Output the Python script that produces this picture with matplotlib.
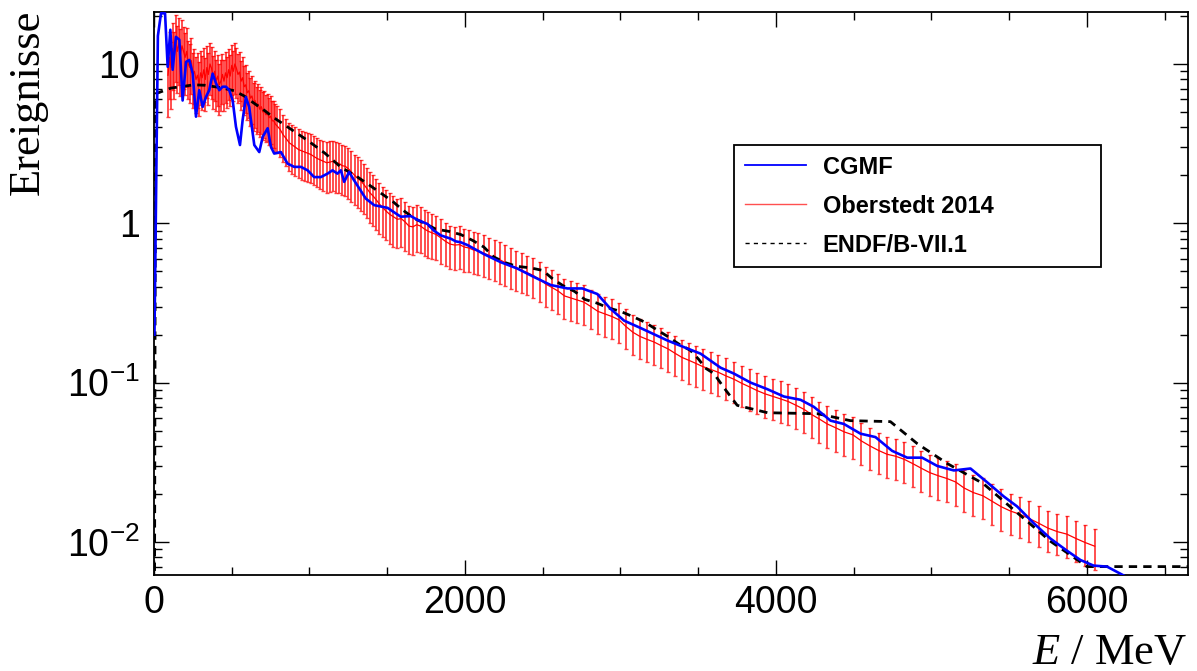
import matplotlib
matplotlib.use("Agg")
import matplotlib.pyplot as plt
import numpy as np
from matplotlib.ticker import FixedLocator, FixedFormatter, NullFormatter, MultipleLocator
from matplotlib.lines import Line2D

plt.rcParams['font.family'] = ['Liberation Sans', 'DejaVu Sans']
plt.rcParams['mathtext.fontset'] = 'custom'
plt.rcParams['mathtext.it'] = 'Liberation Serif:italic'
plt.rcParams['mathtext.rm'] = 'Liberation Sans'

# ---------------- data ----------------
blue_x = [3, 25, 45, 71, 88, 105, 120, 141, 163, 184,
          206, 227, 249, 270, 291, 313, 334, 355, 377, 398,
          420, 441, 463, 484, 506, 527, 553, 570, 591, 612,
          645, 677, 699, 731, 752, 773, 816, 859, 902, 945,
          988, 1030, 1073, 1116, 1148, 1180, 1202, 1223, 1255, 1287,
          1330, 1362, 1416, 1502, 1540, 1587, 1652, 1695, 1759, 1800,
          1844, 1909, 1941, 1973, 2016, 2123, 2230, 2337, 2444, 2551,
          2659, 2755, 2851, 2937, 3023, 3130, 3301, 3408, 3515, 3644,
          3729, 3837, 3944, 4051, 4158, 4244, 4351, 4437, 4544, 4640,
          4747, 4844, 4940, 5037, 5144, 5251, 5358, 5465, 5551, 5658,
          5765, 5872, 5958, 6043, 6129, 6258]
blue_y = [0.2, 15, 20.8, 20.8, 9.6, 16.4, 9.2, 14.8, 14.2, 5.9,
          10.3, 10.6, 8.7, 4.67, 6.85, 5.38, 6.2, 6.85, 8.7, 7.6,
          6.85, 7.2, 7.2, 6.85, 5.9, 4.04, 3.1, 4.45, 6.2, 5.38,
          3.1, 2.8, 3.49, 3.95, 3.02, 2.74, 2.8, 2.37, 2.26, 2.26,
          2.15, 1.95, 1.95, 2.05, 2.15, 2.05, 2.15, 1.82, 2.1, 1.86,
          1.6, 1.43, 1.30, 1.25, 1.18, 1.10, 1.11, 1.05, 0.99, 0.90,
          0.84, 0.80, 0.77, 0.76, 0.73, 0.64, 0.57, 0.52, 0.46, 0.41,
          0.39, 0.39, 0.36, 0.29, 0.245, 0.22, 0.184, 0.167, 0.152, 0.124,
          0.114, 0.10, 0.091, 0.0818, 0.078, 0.0704, 0.0577, 0.055, 0.0478, 0.0455,
          0.0373, 0.0338, 0.0338, 0.030, 0.0281, 0.0289, 0.0237, 0.0193, 0.0167, 0.0131,
          0.0105, 0.0088, 0.0077, 0.0071, 0.0070, 0.0060]

red_x = [90, 100, 110, 120, 130, 140, 150, 160, 170, 180,
         190, 200, 210, 220, 230, 240, 250, 260, 270, 280,
         290, 300, 310, 320, 330, 340, 350, 360, 370, 380,
         390, 400, 410, 420, 430, 440, 450, 460, 470, 480,
         490, 500, 510, 520, 530, 540, 550, 560, 570, 580,
         590, 600, 610, 620, 630, 640, 650, 660, 670, 680,
         690, 700, 710, 720, 730, 740, 750, 760, 770, 780,
         790, 810, 830, 850, 870, 890, 910, 930, 950, 970,
         990, 1010, 1030, 1050, 1070, 1090, 1110, 1130, 1150, 1170,
         1190, 1210, 1230, 1250, 1270, 1290, 1310, 1330, 1350, 1370,
         1390, 1410, 1430, 1450, 1470, 1490, 1515, 1540, 1565, 1590,
         1615, 1640, 1665, 1690, 1715, 1740, 1765, 1790, 1815, 1845,
         1875, 1905, 1935, 1965, 1995, 2025, 2055, 2085, 2120, 2155,
         2190, 2225, 2260, 2295, 2330, 2365, 2400, 2440, 2480, 2520,
         2560, 2600, 2640, 2680, 2720, 2765, 2810, 2855, 2900, 2945,
         2990, 3035, 3080, 3125, 3170, 3215, 3260, 3305, 3350, 3395,
         3440, 3485, 3530, 3580, 3630, 3680, 3730, 3780, 3830, 3880,
         3930, 3980, 4030, 4080, 4130, 4180, 4230, 4280, 4330, 4385,
         4440, 4495, 4550, 4605, 4660, 4715, 4770, 4825, 4880, 4935,
         4990, 5045, 5100, 5155, 5210, 5270, 5330, 5390, 5450, 5510,
         5570, 5630, 5690, 5750, 5810, 5870, 5930, 5990, 6050]
red_y = [8.5, 11, 9.5, 12.5, 11, 14, 12, 13.5, 11.5, 13,
         12, 11, 12, 10, 9.5, 10.5, 8.5, 9, 8, 8.5,
         7.5, 8.8, 8.2, 9.2, 8, 9.5, 8.6, 10, 9.4, 8.2,
         9, 7.8, 8.4, 7.4, 7.8, 8.6, 7.8, 8.8, 8.2, 9.2,
         8.4, 9.8, 9, 10, 9.4, 8.6, 8.9, 7.8, 8.2, 7.2,
         7.4, 6.6, 6.8, 6.1, 6.3, 5.7, 5.9, 5.4, 5.6, 5.2,
         5.4, 5.0, 5.1, 4.8, 4.9, 4.6, 4.7, 4.4, 4.4, 4.2,
         4.1, 3.9, 3.6, 3.4, 3.2, 3.1, 3.0, 2.9, 2.85, 2.8,
         2.75, 2.7, 2.62, 2.55, 2.5, 2.45, 2.4, 2.42, 2.45, 2.4,
         2.38, 2.3, 2.28, 2.2, 2.1, 2.0, 1.92, 1.85, 1.75, 1.65,
         1.55, 1.48, 1.4, 1.32, 1.26, 1.2, 1.14, 1.10, 1.06, 1.07,
         1.02, 0.96, 0.95, 0.98, 0.96, 0.92, 0.89, 0.87, 0.85, 0.81,
         0.77, 0.74, 0.73, 0.735, 0.71, 0.70, 0.68, 0.67, 0.65, 0.63,
         0.61, 0.59, 0.565, 0.545, 0.525, 0.505, 0.49, 0.47, 0.445, 0.415,
         0.395, 0.375, 0.35, 0.34, 0.33, 0.32, 0.30, 0.28, 0.27, 0.26,
         0.248, 0.225, 0.207, 0.195, 0.187, 0.18, 0.171, 0.163, 0.153, 0.144,
         0.138, 0.132, 0.126, 0.121, 0.116, 0.110, 0.105, 0.099, 0.094, 0.089,
         0.085, 0.082, 0.079, 0.076, 0.072, 0.068, 0.063, 0.059, 0.055, 0.052,
         0.049, 0.047, 0.043, 0.040, 0.0375, 0.0355, 0.0345, 0.033, 0.031, 0.029,
         0.0272, 0.026, 0.025, 0.0238, 0.0218, 0.0204, 0.0195, 0.018, 0.0166, 0.0156,
         0.0149, 0.014, 0.0131, 0.0122, 0.0116, 0.0112, 0.0105, 0.0099, 0.0094]
red_rel_err = [0.45, 0.45, 0.45, 0.45, 0.45, 0.45, 0.45, 0.45, 0.45, 0.45,
               0.42, 0.42, 0.40, 0.40, 0.40, 0.38, 0.38, 0.38, 0.38, 0.38,
               0.37, 0.37, 0.37, 0.37, 0.37, 0.36, 0.36, 0.36, 0.36, 0.36,
               0.35, 0.35, 0.35, 0.35, 0.35, 0.35, 0.35, 0.35, 0.35, 0.35,
               0.35, 0.35, 0.35, 0.35, 0.35, 0.34, 0.34, 0.34, 0.34, 0.34,
               0.33, 0.33, 0.33, 0.33, 0.33, 0.33, 0.33, 0.33, 0.33, 0.33,
               0.33, 0.33, 0.33, 0.33, 0.33, 0.33, 0.33, 0.33, 0.33, 0.33,
               0.33, 0.33, 0.33, 0.33, 0.33, 0.34, 0.34, 0.34, 0.34, 0.34,
               0.34, 0.34, 0.34, 0.34, 0.34, 0.35, 0.35, 0.35, 0.35, 0.35,
               0.35, 0.35, 0.35, 0.35, 0.35, 0.35, 0.35, 0.35, 0.35, 0.35,
               0.35, 0.35, 0.35, 0.35, 0.35, 0.35, 0.35, 0.35, 0.34, 0.34,
               0.34, 0.33, 0.33, 0.33, 0.32, 0.32, 0.32, 0.31, 0.31, 0.31,
               0.30, 0.30, 0.30, 0.30, 0.30, 0.29, 0.29, 0.29, 0.29, 0.29,
               0.29, 0.29, 0.29, 0.29, 0.28, 0.28, 0.28, 0.28, 0.28, 0.28,
               0.28, 0.28, 0.28, 0.28, 0.28, 0.28, 0.28, 0.28, 0.28, 0.28,
               0.28, 0.28, 0.28, 0.28, 0.28, 0.28, 0.28, 0.28, 0.28, 0.28,
               0.29, 0.29, 0.29, 0.29, 0.29, 0.29, 0.29, 0.29, 0.29, 0.29,
               0.29, 0.29, 0.29, 0.29, 0.29, 0.29, 0.29, 0.29, 0.29, 0.29,
               0.29, 0.29, 0.29, 0.29, 0.29, 0.29, 0.29, 0.29, 0.29, 0.29,
               0.29, 0.29, 0.29, 0.29, 0.29, 0.29, 0.29, 0.29, 0.29, 0.29,
               0.29, 0.29, 0.29, 0.29, 0.29, 0.29, 0.29, 0.29, 0.29]

endf_x = [2, 10, 109, 257, 330, 430, 514, 580, 640, 700,
          771, 880, 990, 1100, 1202, 1310, 1414, 1536, 1600, 1677,
          1748, 1812, 1896, 1973, 2050, 2121, 2185, 2262, 2333, 2423,
          2500, 2564, 2629, 2706, 2770, 2847, 2924, 3001, 3078, 3155,
          3226, 3303, 3374, 3451, 3503, 3548, 3601, 3665, 3751, 3946,
          4267, 4479, 4736, 4910, 5103, 5334, 5553, 5765, 5977, 6000,
          6650]
endf_y = [0.001, 6.5, 7.06, 7.4, 7.35, 7.1, 6.8, 6.3, 5.7, 5.2,
          4.6, 3.9, 3.3, 2.75, 2.25, 1.95, 1.66, 1.37, 1.21, 1.07,
          0.99, 0.92, 0.89, 0.85, 0.78, 0.71, 0.615, 0.565, 0.537, 0.525,
          0.506, 0.448, 0.407, 0.373, 0.333, 0.316, 0.294, 0.28, 0.26, 0.24,
          0.217, 0.195, 0.175, 0.159, 0.14, 0.123, 0.114, 0.093, 0.072, 0.0647,
          0.0638, 0.0577, 0.0569, 0.0413, 0.031, 0.0232, 0.0152, 0.0101, 0.00727, 0.0070,
          0.0070]

labels = ["CGMF", "Oberstedt 2014", "ENDF/B-VII.1"]
x_major = [0, 2000, 4000, 6000]
x_major_labels = ["0", "2000", "4000", "6000"]
y_major = [0.01, 0.1, 1, 10]
y_major_labels = [r"$\mathregular{10^{-2}}$", r"$\mathregular{10^{-1}}$", "1", "10"]

# ---------------- figure ----------------
W, H = 1197, 671
fig = plt.figure(figsize=(W / 100, H / 100), dpi=100)
L, R, T, B = 154, 1188, 12, 575
ax = fig.add_axes([L / W, 1 - B / H, (R - L) / W, (B - T) / H])

ax.set_yscale('log')
ax.set_xlim(0, 6650)
ax.set_ylim(0.0062, 21.2)

red_x_a = np.array(red_x, float)
red_y_a = np.array(red_y, float)
red_err = red_y_a * np.array(red_rel_err, float)

ax.errorbar(red_x_a, red_y_a, yerr=red_err, fmt='none', ecolor='#ff0000',
            elinewidth=1.3, capsize=1.6, capthick=1.0, alpha=0.75, zorder=2)
ax.plot(red_x_a, red_y_a, color='#ff0000', lw=0.9, zorder=3)
ax.plot(endf_x, endf_y, color='black', lw=2.0, ls=(0, (3.0, 2.2)), zorder=4)
ax.plot(blue_x, blue_y, color='#0000ff', lw=1.9, zorder=5)

# ticks
ax.xaxis.set_major_locator(FixedLocator(x_major))
ax.xaxis.set_major_formatter(FixedFormatter(x_major_labels))
ax.xaxis.set_minor_locator(MultipleLocator(500))
ax.yaxis.set_major_locator(FixedLocator(y_major))
ax.yaxis.set_major_formatter(FixedFormatter(y_major_labels))
minors = [m * 10.0 ** e for e in range(-3, 2) for m in range(2, 10)]
ax.yaxis.set_minor_locator(FixedLocator(minors))
ax.yaxis.set_minor_formatter(NullFormatter())

ax.tick_params(which='both', direction='in', top=True, right=True, width=1.0,
               labelsize=27, colors='black')
ax.tick_params(which='major', length=11)
ax.tick_params(which='minor', length=5.5)
ax.tick_params(axis='x', which='major', pad=7)
ax.tick_params(axis='y', which='major', pad=10)
for s in ax.spines.values():
    s.set_linewidth(1.3)

# titles
fig.text(28 / W, 1 - 10 / H, 'Ereignisse', rotation=90, ha='center', va='top',
         family='Liberation Serif', size=32)
fig.text(1187 / W, 7 / H, r'$E$ / MeV', ha='right', va='baseline',
         family='Liberation Serif', size=32)

# legend
handles = [Line2D([], [], color='#0000ff', lw=1.3),
           Line2D([], [], color='#ff5050', lw=1.0),
           Line2D([], [], color='black', lw=1.0, ls=(0, (3, 3)))]
leg = ax.legend(handles, labels, loc='upper left',
                bbox_to_anchor=(734 / W, 1 - 145 / H - 0.01, (1101 - 734) / W, 0.01),
                bbox_transform=fig.transFigure, mode='expand', borderaxespad=0,
                frameon=True, fancybox=False, framealpha=1, edgecolor='black',
                prop={'family': 'Liberation Sans', 'weight': 'bold', 'size': 17},
                handlelength=2.6, handletextpad=0.7, labelspacing=0.68,
                borderpad=0.45)
leg.get_frame().set_linewidth(1.3)

fig.savefig('out.png', dpi=100)
